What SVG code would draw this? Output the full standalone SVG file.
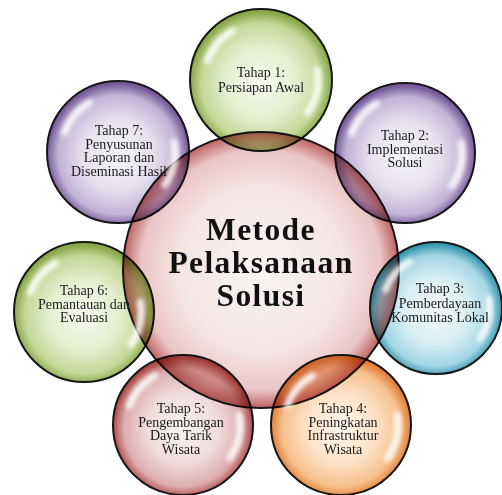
<svg xmlns="http://www.w3.org/2000/svg" xmlns:xlink="http://www.w3.org/1999/xlink" width="502" height="495" viewBox="0 0 502 495">
<style>
.ring{stroke:#161616;stroke-width:2}
.sat{mix-blend-mode:multiply}
.t{font-family:"Liberation Serif","DejaVu Serif",serif;font-size:14px;fill:#1a1a1a;text-anchor:middle}
.m{font-family:"Liberation Serif","DejaVu Serif",serif;font-size:31.5px;font-weight:bold;letter-spacing:1.4px;fill:#111;text-anchor:middle}
.hl{fill:none;stroke:#fff;stroke-width:7;stroke-linecap:round;opacity:0.85;filter:url(#blur)}
</style>
<defs>
<filter id="blur" x="-50%" y="-50%" width="200%" height="200%"><feGaussianBlur stdDeviation="2"/></filter>
<radialGradient id="gGreen" cx="50%" cy="52%" r="50%">
<stop offset="0" stop-color="#f6faee"/><stop offset="0.5" stop-color="#e5eed0"/><stop offset="0.84" stop-color="#c4d898"/><stop offset="1" stop-color="#88a748"/>
</radialGradient>
<radialGradient id="gPurple" cx="50%" cy="52%" r="50%">
<stop offset="0" stop-color="#f7f5fa"/><stop offset="0.5" stop-color="#e6e0ef"/><stop offset="0.84" stop-color="#c2b3d6"/><stop offset="1" stop-color="#765a99"/>
</radialGradient>
<radialGradient id="gBlue" cx="50%" cy="52%" r="50%">
<stop offset="0" stop-color="#f0f8fb"/><stop offset="0.5" stop-color="#d8eef4"/><stop offset="0.84" stop-color="#a3d6e5"/><stop offset="1" stop-color="#3898b1"/>
</radialGradient>
<radialGradient id="gOrange" cx="50%" cy="52%" r="50%">
<stop offset="0" stop-color="#fff6ed"/><stop offset="0.5" stop-color="#fde2c8"/><stop offset="0.84" stop-color="#f7c08c"/><stop offset="1" stop-color="#e07f36"/>
</radialGradient>
<radialGradient id="gRed" cx="50%" cy="52%" r="50%">
<stop offset="0" stop-color="#fbf2f2"/><stop offset="0.5" stop-color="#f1dcdc"/><stop offset="0.84" stop-color="#ddaeae"/><stop offset="1" stop-color="#ad4b48"/>
</radialGradient>
<radialGradient id="gCenter" cx="50%" cy="50%" r="50%">
<stop offset="0" stop-color="#fbf3f3"/><stop offset="0.6" stop-color="#f6e4e4"/><stop offset="0.87" stop-color="#eac5c5"/><stop offset="1" stop-color="#bd6361"/>
</radialGradient>
<g id="gloss">
<path class="hl" d="M -53.6 -19.5 A 57 57 0 0 1 -28.5 -49.4"/>
<path class="hl" d="M 56.1 -9.9 A 57 57 0 0 1 46.7 32.7"/>
</g>
</defs>
<rect width="502" height="495" fill="#fff"/>

<g id="center">
<circle class="ring" cx="261" cy="270" r="138" fill="url(#gCenter)"/>
<text class="m" x="261" y="240">Metode</text>
<text class="m" x="261" y="273">Pelaksanaan</text>
<text class="m" x="261" y="306">Solusi</text>
</g>

<g id="tahap1">
<circle class="ring sat" cx="261" cy="80" r="71" fill="url(#gGreen)"/>
<use xlink:href="#gloss" transform="translate(261 80)"/>
<text class="t" x="261" y="77">Tahap 1:</text>
<text class="t" x="261" y="91.5">Persiapan Awal</text>
</g>

<g id="tahap2">
<circle class="ring sat" cx="405" cy="153" r="70" fill="url(#gPurple)"/>
<use xlink:href="#gloss" transform="translate(405 153)"/>
<text class="t" x="405" y="140">Tahap 2:</text>
<text class="t" x="405" y="153.5">Implementasi</text>
<text class="t" x="405" y="167">Solusi</text>
</g>

<g id="tahap3">
<circle class="ring sat" cx="436" cy="308" r="66" fill="url(#gBlue)"/>
<use xlink:href="#gloss" transform="translate(436 308) scale(0.94)"/>
<text class="t" x="440" y="293">Tahap 3:</text>
<text class="t" x="440" y="307.5">Pemberdayaan</text>
<text class="t" x="440" y="322">Komunitas Lokal</text>
</g>

<g id="tahap4">
<circle class="ring sat" cx="341" cy="425" r="70" fill="url(#gOrange)"/>
<use xlink:href="#gloss" transform="translate(341 425)"/>
<text class="t" x="343" y="413">Tahap 4:</text>
<text class="t" x="343" y="426.5">Peningkatan</text>
<text class="t" x="343" y="440">Infrastruktur</text>
<text class="t" x="343" y="453.5">Wisata</text>
</g>

<g id="tahap5">
<circle class="ring sat" cx="183" cy="425" r="70" fill="url(#gRed)"/>
<use xlink:href="#gloss" transform="translate(183 425)"/>
<text class="t" x="181" y="413">Tahap 5:</text>
<text class="t" x="181" y="426.5">Pengembangan</text>
<text class="t" x="181" y="440">Daya Tarik</text>
<text class="t" x="181" y="453.5">Wisata</text>
</g>

<g id="tahap6">
<circle class="ring sat" cx="84" cy="312" r="70" fill="url(#gGreen)"/>
<use xlink:href="#gloss" transform="translate(84 312)"/>
<text class="t" x="84" y="295">Tahap 6:</text>
<text class="t" x="84" y="308.5">Pemantauan dan</text>
<text class="t" x="84" y="322">Evaluasi</text>
</g>

<g id="tahap7">
<circle class="ring sat" cx="118" cy="152" r="71" fill="url(#gPurple)"/>
<use xlink:href="#gloss" transform="translate(118 152)"/>
<text class="t" x="119" y="135">Tahap 7:</text>
<text class="t" x="119" y="148.5">Penyusunan</text>
<text class="t" x="119" y="162">Laporan dan</text>
<text class="t" x="119" y="175.5">Diseminasi Hasil</text>
</g>
</svg>
